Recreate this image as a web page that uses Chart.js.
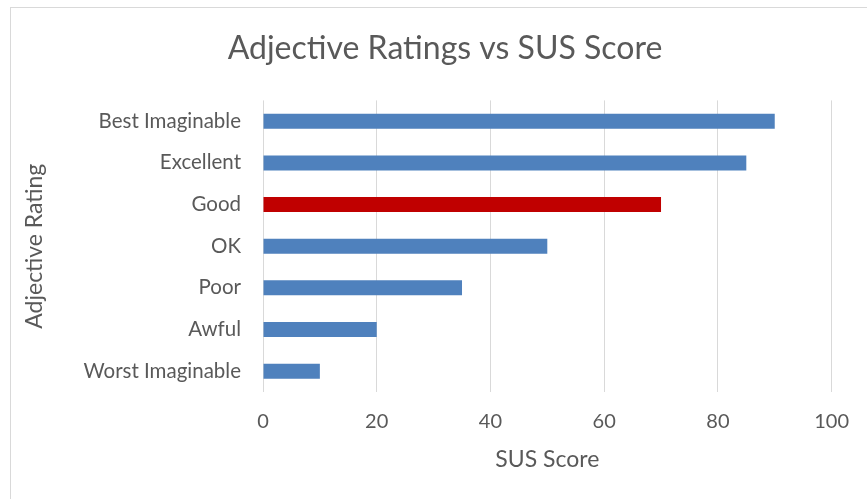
<!DOCTYPE html>
<html>
<head>
<meta charset="utf-8">
<script src="https://cdn.jsdelivr.net/npm/chart.js@4"></script>
<style>
  html, body { margin: 0; padding: 0; background: #fff; overflow: hidden; }
  #frame { position: absolute; left: 10px; top: 7px; width: 880px; height: 520px; border: 1px solid #d9d9d9; }
  #chart { position: absolute; left: 0; top: 0; }
</style>
</head>
<body>
<div id="frame"></div>
<canvas id="chart" width="867" height="499"></canvas>
<script>
const ratings = ['Best Imaginable', 'Excellent', 'Good', 'OK', 'Poor', 'Awful', 'Worst Imaginable'];
const susScores = [90, 85, 70, 50, 35, 20, 10];
const highlighted = 'Good';
const xTicks = [0, 20, 40, 60, 80, 100];

const textColor = '#595959';
const font = 'Lato, "Open Sans", sans-serif';

// centre the title on the outer frame rather than the padded layout box
const titleShift = {
  id: 'titleShift',
  afterLayout(chart) {
    chart.titleBlock.left = 10;
    chart.titleBlock.right = 880;
  }
};

const ctx = document.getElementById('chart').getContext('2d');
new Chart(ctx, {
  type: 'bar',
  data: {
    labels: ratings,
    datasets: [{
      label: 'SUS Score',
      data: susScores,
      backgroundColor: c => ratings[c.dataIndex] === highlighted ? '#c00000' : '#4f81bd',
      borderWidth: 0,
      categoryPercentage: 1,
      barPercentage: 0.36
    }]
  },
  plugins: [titleShift],
  options: {
    indexAxis: 'y',
    responsive: false,
    animation: false,
    layout: { padding: { left: 0, right: 35, top: 0, bottom: 0 } },
    plugins: {
      legend: { display: false },
      tooltip: { enabled: false },
      title: {
        display: true,
        text: 'Adjective Ratings vs SUS Score',
        color: textColor,
        font: { family: font, size: 32, weight: 'normal' },
        padding: { top: 29, bottom: 33 }
      }
    },
    scales: {
      x: {
        min: 0,
        max: 100,
        afterBuildTicks: s => { s.ticks = xTicks.map(v => ({ value: v })); },
        afterFit: s => { s.height = 107; },
        grid: { color: '#d9d9d9', drawTicks: false },
        border: { display: false },
        ticks: { color: textColor, padding: 18, font: { family: font, size: 20 } },
        title: {
          display: true,
          text: 'SUS Score',
          color: textColor,
          font: { family: font, size: 23 },
          padding: { top: 0, bottom: 26 }
        }
      },
      y: {
        afterFit: s => { s.width = 263; },
        grid: { display: false, drawTicks: false },
        border: { display: false },
        ticks: { color: textColor, padding: 22, font: { family: font, size: 20.5 } },
        title: {
          display: true,
          text: 'Adjective Rating',
          color: textColor,
          font: { family: font, size: 23 },
          padding: { top: 21, bottom: 0 }
        }
      }
    }
  }
});
</script>
</body>
</html>
